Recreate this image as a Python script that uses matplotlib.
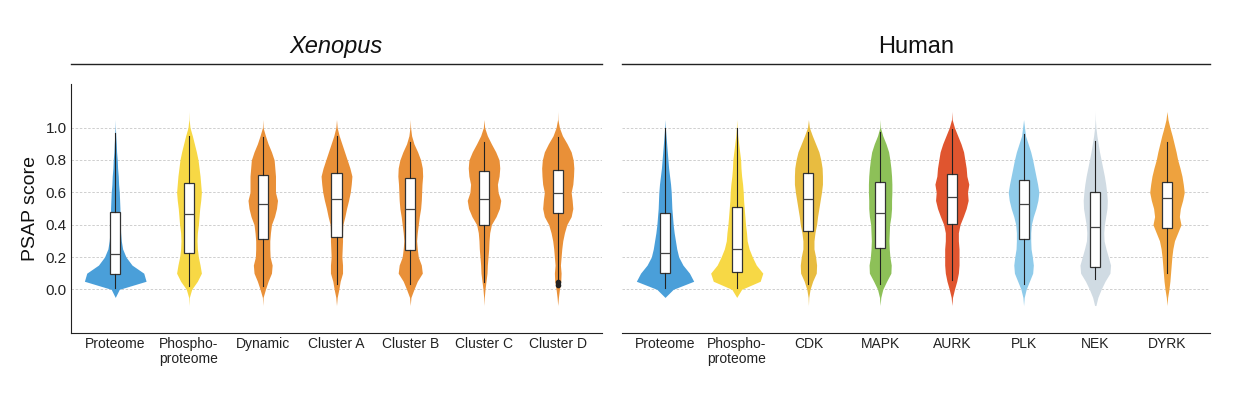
import numpy as np
import matplotlib
matplotlib.use("Agg")
import matplotlib.pyplot as plt

plt.rcParams['font.family'] = ['Liberation Sans', 'DejaVu Sans']

score_grid = [-0.1, -0.05, 0.0, 0.05, 0.1, 0.15, 0.2, 0.25, 0.3, 0.35, 0.4, 0.45,
              0.5, 0.55, 0.6, 0.65, 0.7, 0.75, 0.8, 0.85, 0.9, 0.95, 1.0, 1.05, 1.1]

# ---- Xenopus ----
xen_labels = ["Proteome", "Phospho-\nproteome", "Dynamic", "Cluster A",
              "Cluster B", "Cluster C", "Cluster D"]
xen_colors = ["#4a9fd9", "#f7d845", "#e99038", "#e99038",
              "#e99038", "#e99038", "#e99038"]
xen_density = [
    [0, 0, 12, 92, 85, 50, 32, 22, 18, 16, 15, 14, 14, 13, 12, 10, 9, 7, 6, 4, 3, 1.5, 0.5, 0, 0],
    [0, 1, 8, 25, 37, 33, 28, 25, 24, 25, 28, 30, 32, 35, 37, 35, 33, 30, 27, 22, 16, 10, 3, 0.5, 0],
    [0, 1, 8, 16, 26, 28, 22, 21, 21, 23, 26, 35, 41, 44, 38, 38, 38, 36, 34, 26, 16, 8, 1, 0, 0],
    [0, 2, 7, 11, 18, 18, 16, 17, 18, 18, 19, 25, 30, 36, 41, 44, 46, 40, 32, 24, 16, 8, 2, 0, 0],
    [0, 2, 11, 21, 36, 33, 24, 21, 19, 21, 24, 27, 31, 33, 34, 35, 37, 36, 31, 22, 11, 4, 1, 0, 0],
    [0, 1, 3, 6, 9, 10, 12, 14, 15, 17, 22, 36, 46, 50, 42, 40, 45, 47, 45, 35, 22, 10, 2, 0, 0],
    [0, 2, 5, 9, 10, 8, 10, 12, 15, 20, 27, 40, 45, 43, 40, 45, 47, 48, 46, 40, 28, 14, 5, 0.5, 0],
]
xen_q1 = [0.095, 0.227, 0.309, 0.326, 0.243, 0.400, 0.470]
xen_median = [0.217, 0.466, 0.530, 0.559, 0.497, 0.559, 0.596]
xen_q3 = [0.476, 0.660, 0.705, 0.722, 0.687, 0.734, 0.738]
xen_whislo = [0.006, 0.022, 0.022, 0.031, 0.033, 0.047, 0.065]
xen_whishi = [0.965, 0.949, 0.944, 0.949, 0.913, 0.913, 0.944]
xen_fliers = [[], [], [], [], [], [], [0.047, 0.025]]

# ---- Human ----
hum_labels = ["Proteome", "Phospho-\nproteome", "CDK", "MAPK",
              "AURK", "PLK", "NEK", "DYRK"]
hum_colors = ["#4a9fd9", "#f7d845", "#e8bc40", "#8dc058",
              "#e0552f", "#8fcbea", "#d0dbe3", "#eea23e"]
hum_density = [
    [0, 0, 25, 88, 75, 55, 42, 36, 32, 28, 25, 23, 21, 20, 19, 17, 14, 11, 9, 7, 5, 3, 1, 0, 0],
    [0, 0, 15, 72, 80, 60, 48, 38, 32, 30, 27, 25, 23, 21, 20, 18, 15, 13, 12, 9, 6, 3, 1, 0, 0],
    [0, 1, 5, 13, 24, 25, 22, 17, 17, 20, 25, 28, 32, 36, 40, 43, 43, 42, 38, 32, 22, 12, 3, 0, 0],
    [0, 2, 8, 20, 33, 34, 30, 28, 27, 28, 29, 33, 35, 35, 36, 36, 35, 33, 30, 26, 18, 8, 1, 0, 0],
    [0, 2, 8, 15, 20, 22, 22, 22, 20, 20, 25, 35, 44, 50, 48, 52, 46, 44, 40, 36, 28, 18, 8, 1, 0],
    [0, 2, 8, 18, 28, 30, 27, 23, 22, 22, 24, 30, 38, 44, 47, 43, 38, 33, 28, 22, 14, 6, 3, 0, 0],
    [2, 8, 18, 30, 45, 47, 40, 33, 27, 26, 28, 32, 36, 37, 35, 32, 28, 23, 18, 13, 9, 5, 2, 0.5, 0],
    [0, 2, 6, 9, 11, 13, 15, 18, 23, 33, 43, 38, 41, 48, 53, 50, 46, 40, 33, 28, 22, 16, 9, 3, 0],
]
hum_q1 = [0.099, 0.109, 0.361, 0.254, 0.402, 0.309, 0.138, 0.377]
hum_median = [0.223, 0.251, 0.559, 0.470, 0.569, 0.530, 0.384, 0.563]
hum_q3 = [0.474, 0.507, 0.722, 0.662, 0.711, 0.676, 0.604, 0.662]
hum_whislo = [0.010, 0.010, 0.035, 0.035, 0.058, 0.035, 0.062, 0.103]
hum_whishi = [0.996, 0.996, 0.975, 0.975, 0.990, 0.959, 0.918, 0.913]
hum_fliers = [[], [], [], [], [], [], [], []]

yticks = [0.0, 0.2, 0.4, 0.6, 0.8, 1.0]


def draw_panel(ax, labels, colors, density, q1, med, q3, lo, hi, fliers, title, italic):
    n = len(labels)
    pos = np.arange(1, n + 1)
    y = np.array(score_grid)
    for p, c, d in zip(pos, colors, density):
        half = np.array(d) / 220.0
        ax.fill_betweenx(y, p - half, p + half, color=c, lw=0, zorder=2)
    stats = [dict(med=m, q1=a, q3=b, whislo=l, whishi=h, fliers=f)
             for m, a, b, l, h, f in zip(med, q1, q3, lo, hi, fliers)]
    ax.bxp(stats, positions=pos, widths=0.14, patch_artist=True, showcaps=False,
           manage_ticks=False,
           boxprops=dict(facecolor="white", edgecolor="#333333", lw=0.9),
           medianprops=dict(color="#444444", lw=0.9),
           whiskerprops=dict(color="#222222", lw=0.8),
           flierprops=dict(marker="o", markersize=3, markerfacecolor="#222222",
                           markeredgecolor="#222222"),
           zorder=3)
    ax.set_xlim(0.4, n + 0.6)
    ax.set_ylim(-0.27, 1.27)
    ax.set_xticks(pos)
    ax.set_xticklabels(labels, fontsize=10, color="#222222", linespacing=1.05)
    ax.set_yticks(yticks)
    ax.grid(axis="y", color="#c8c8c8", linestyle=(0, (3, 2)), lw=0.6)
    ax.set_axisbelow(True)
    ax.tick_params(axis="both", length=0)
    ax.tick_params(axis="x", pad=3)
    for s in ["top", "right"]:
        ax.spines[s].set_visible(False)
    ax.spines["bottom"].set_color("#222222")
    ax.spines["left"].set_color("#222222")
    # panel header with a rule underneath
    ax.plot([0, 1], [1.08, 1.08], transform=ax.transAxes, clip_on=False,
            color="#222222", lw=1)
    ax.text(0.5, 1.15, title, transform=ax.transAxes, ha="center", va="center",
            fontsize=17, style="italic" if italic else "normal", color="#111111")


fig = plt.figure(figsize=(12.36, 3.94), dpi=100)
ax1 = fig.add_axes([71 / 1236, 1 - 333 / 394, 531 / 1236, 249 / 394])
ax2 = fig.add_axes([622 / 1236, 1 - 333 / 394, 588 / 1236, 249 / 394])

draw_panel(ax1, xen_labels, xen_colors, xen_density, xen_q1, xen_median, xen_q3,
           xen_whislo, xen_whishi, xen_fliers, "Xenopus", True)
draw_panel(ax2, hum_labels, hum_colors, hum_density, hum_q1, hum_median, hum_q3,
           hum_whislo, hum_whishi, hum_fliers, "Human", False)

ax1.set_yticklabels(["%.1f" % t for t in yticks], fontsize=11, color="#222222")
ax1.tick_params(axis="y", pad=3)
ax1.set_ylabel("PSAP score", fontsize=14, labelpad=5, color="#111111")
ax2.spines["left"].set_visible(False)
ax2.tick_params(axis="y", labelleft=False)

fig.savefig("out.png", dpi=100, facecolor="white")
